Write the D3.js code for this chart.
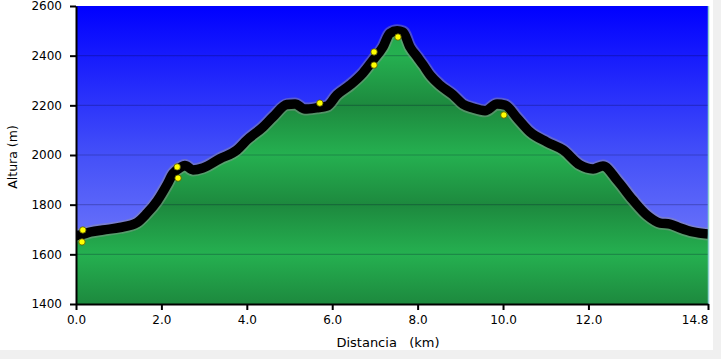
<!DOCTYPE html>
<html><head><meta charset="utf-8">
<script src="https://cdn.jsdelivr.net/npm/d3@7"></script>
<style>
html,body{margin:0;padding:0;background:#fff;}
svg{display:block;}
text{font-family:"DejaVu Sans",Verdana,sans-serif;fill:#000;}
</style></head>
<body>
<svg id="chart" width="721" height="359"></svg>
<script>
// ---- data ----
const distKm = [0, 0.1, 0.35, 0.63, 1.03, 1.43, 1.66, 1.9, 2.13, 2.27, 2.45, 2.55, 2.74, 2.97, 3.37, 3.77, 4.0, 4.38, 4.61, 4.94, 5.13, 5.36, 5.64, 5.88, 6.11, 6.42, 6.72, 6.96, 7.19, 7.35, 7.52, 7.66, 7.82, 7.99, 8.13, 8.29, 8.52, 8.83, 9.06, 9.3, 9.58, 9.86, 10.05, 10.33, 10.63, 11.03, 11.41, 11.8, 12.11, 12.34, 12.67, 13.04, 13.37, 13.68, 13.91, 14.15, 14.45, 14.8];
const elevM = [1675, 1678, 1690, 1698, 1708, 1728, 1765, 1815, 1880, 1925, 1950, 1958, 1940, 1948, 1985, 2020, 2060, 2113, 2153, 2203, 2205, 2185, 2190, 2197, 2242, 2282, 2330, 2383, 2435, 2490, 2500, 2495, 2435, 2395, 2362, 2322, 2282, 2242, 2205, 2189, 2178, 2205, 2201, 2149, 2093, 2052, 2020, 1960, 1944, 1956, 1899, 1819, 1758, 1726, 1722, 1706, 1690, 1682];
const wpKm = [0.16, 0.14, 2.37, 2.39, 5.71, 6.98, 6.98, 7.54, 10.02];
const wpElev = [1698, 1650, 1952, 1907, 2209, 2415, 2362, 2475, 2161];
const xTicks = [0, 2, 4, 6, 8, 10, 12, 14.8];
const xTickLabels = ["0.0", "2.0", "4.0", "6.0", "8.0", "10.0", "12.0", "14.8"];
const yTicks = [1400, 1600, 1800, 2000, 2200, 2400, 2600];
const xTitle = "Distancia\u00a0\u00a0\u00a0(km)";
const yTitle = "Altura (m)";

// ---- layout ----
const L = 76, R = 708, T = 6, B = 304;
const svg = d3.select("#chart");
const x = d3.scaleLinear().domain([0, 14.8]).range([L, R]);
const y = d3.scaleLinear().domain([1400, 2600]).range([B, T]);

// window frame (grey strips)
svg.append("rect").attr("x", 713).attr("y", 0).attr("width", 8).attr("height", 359).attr("fill", "#f0f0f0");
svg.append("rect").attr("x", 0).attr("y", 350).attr("width", 721).attr("height", 9).attr("fill", "#f0f0f0");

const defs = svg.append("defs");
defs.append("clipPath").attr("id", "plotclip").append("rect")
  .attr("x", L).attr("y", T - 2).attr("width", R - L).attr("height", B - T + 2);
const sky = defs.append("linearGradient").attr("id", "sky")
  .attr("gradientUnits", "userSpaceOnUse").attr("x1", 0).attr("x2", 0).attr("y1", T).attr("y2", B);
sky.append("stop").attr("offset", 0).attr("stop-color", "#0000ff");
sky.append("stop").attr("offset", 0.5).attr("stop-color", "#4450f8");
sky.append("stop").attr("offset", 1).attr("stop-color", "#848cfb");

const grn = defs.append("linearGradient").attr("id", "grn")
  .attr("gradientUnits", "userSpaceOnUse").attr("x1", 0).attr("x2", 0).attr("y1", T).attr("y2", B);
const light = "#25b050", dark = "#1d893e";
[2600, 2400, 2200, 2000, 1800, 1600, 1400].forEach(v => {
  grn.append("stop").attr("offset", (y(v) - T) / (B - T))
    .attr("stop-color", (v === 2400 || v === 2000 || v === 1600) ? light : (v === 2600 ? "#22a04a" : dark));
});

svg.append("rect").attr("x", L).attr("y", T).attr("width", R - L).attr("height", B - T).attr("fill", "url(#sky)");

const pts = distKm.map((d, i) => [d, elevM[i]]);
const area = d3.area().x(d => x(d[0])).y0(y(1400)).y1(d => y(d[1])).curve(d3.curveMonotoneX);
const line = d3.line().x(d => x(d[0])).y(d => y(d[1])).curve(d3.curveMonotoneX);

const plot = svg.append("g").attr("clip-path", "url(#plotclip)");
plot.append("path").datum(pts).attr("d", area).attr("fill", "url(#grn)");

// gridlines
plot.append("g").selectAll("line").data(yTicks.filter(v => v > 1400 && v < 2600)).join("line")
  .attr("x1", L).attr("x2", R).attr("y1", d => y(d)).attr("y2", d => y(d))
  .attr("stroke", "rgba(0,0,40,0.22)").attr("stroke-width", 1.2);

// profile
plot.append("path").datum(pts).attr("d", line).attr("fill", "none")
  .attr("stroke", "rgba(150,150,150,0.45)").attr("stroke-width", 13).attr("stroke-linejoin", "round");
plot.append("path").datum(pts).attr("d", line).attr("fill", "none")
  .attr("stroke", "#000").attr("stroke-width", 9.5).attr("stroke-linejoin", "round");

// waypoints
plot.append("g").selectAll("circle").data(wpKm.map((d, i) => [d, wpElev[i]])).join("circle")
  .attr("cx", d => x(d[0])).attr("cy", d => y(d[1])).attr("r", 3.2)
  .attr("fill", "#ffff00").attr("stroke", "#555500").attr("stroke-width", 0.8);

// right border
svg.append("line").attr("x1", R + 0.5).attr("x2", R + 0.5).attr("y1", T).attr("y2", B)
  .attr("stroke", "#8fd0d0").attr("stroke-width", 1.5);

// axes
const xAxis = d3.axisBottom(x).tickValues(xTicks).tickFormat((d, i) => xTickLabels[i])
  .tickSizeInner(6).tickSizeOuter(0).tickPadding(5);
const gx = svg.append("g").attr("transform", `translate(0,${B})`).call(xAxis);
const yAxis = d3.axisLeft(y).tickValues(yTicks).tickFormat(d3.format("d"))
  .tickSizeInner(6).tickSizeOuter(0).tickPadding(8);
const gy = svg.append("g").attr("transform", `translate(${L},0)`).call(yAxis);
[gx, gy].forEach(g => {
  g.select(".domain").attr("stroke", "#000").attr("stroke-width", 2);
  g.selectAll(".tick line").attr("stroke", "#000").attr("stroke-width", 2);
  g.selectAll(".tick text").attr("font-size", 12).attr("font-family", "DejaVu Sans, Verdana, sans-serif").attr("fill", "#000");
});
gx.selectAll(".tick text").filter((d, i) => i === xTicks.length - 1).attr("text-anchor", "end").attr("x", 0);

svg.append("text").attr("x", 388).attr("y", 347).attr("text-anchor", "middle").attr("font-size", 13).text(xTitle);
svg.append("text").attr("transform", "translate(17,157) rotate(-90)").attr("text-anchor", "middle").attr("font-size", 12.5).text(yTitle);
</script>
</body></html>
